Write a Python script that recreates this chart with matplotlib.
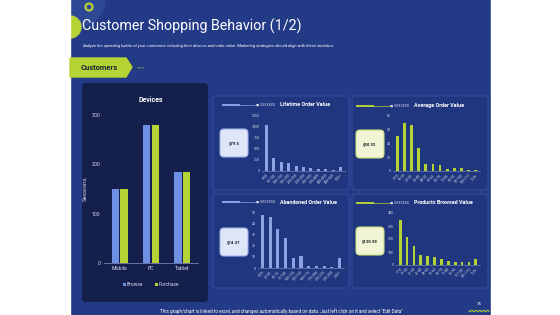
"""
Customer shopping behaviour slide: device sessions and four order-value histograms.
"""

import matplotlib
matplotlib.use('Agg')
import matplotlib.pyplot as plt
from matplotlib.patches import Rectangle, Circle, FancyBboxPatch, Polygon
import numpy as np

plt.rcParams['font.family'] = ['Roboto', 'DejaVu Sans']

W, H = 560, 315

# Devices chart
devices = ['Mobile', 'PC', 'Tablet']
browse = [150, 280, 185]
purchase = [150, 280, 185]

# Small histograms
lov_labels = ['0-50', '50-100', '100-150', '150-200', '200-250', '250-300',
              '300-350', '350-400', '400-450', '450-500', '500+']
lov_values = [1050, 300, 200, 175, 110, 80, 60, 55, 40, 30, 95]

aov_labels = ['0-10', '10-20', '20-30', '30-40', '40-50', '50-60',
              '60-70', '70-80', '80-90', '90-100', '100-110', '110+']
aov_values = [50, 70, 67, 33, 10, 10, 8, 3, 5, 4, 1.5, 2]

abov_labels = ['0-25', '25-50', '50-75', '75-100', '100-125', '125-150',
               '150-175', '175-200', '200-225', '225-250', '250+']
abov_values = [48, 46, 35, 27, 9, 11, 2, 2, 2, 0.5, 9]

pbv_labels = ['1-10', '11-20', '21-30', '31-40', '41-50', '51-60',
              '61-70', '71-80', '81-90', '91-100', '101-110', '110+']
pbv_values = [345, 215, 150, 80, 70, 60, 50, 30, 20, 20, 25, 48]

BG = '#233a86'
PANEL = '#141f4c'
SMALL = '#20367e'
BLUE = '#6f8fe2'
LBLUE = '#8da2e2'
GREEN = '#b5d334'
TXT = '#d4daf0'

fig = plt.figure(figsize=(5.6, 3.15), dpi=100)
fig.patch.set_facecolor('white')

# overlay in pixel coordinates
ov = fig.add_axes([0, 0, 1, 1])
ov.set_xlim(0, W)
ov.set_ylim(H, 0)
ov.axis('off')

ov.add_patch(Rectangle((70, 0), 421, H, color=BG, zorder=0))
# decorative circles
ov.add_patch(Circle((78, 0), 27, color='#2e4895', zorder=1))
ov.add_patch(Circle((70, 27), 11, color=GREEN, zorder=1))
ov.add_patch(Circle((89, 7), 3.5, fill=False, ec=GREEN, lw=1.6, zorder=2))
# white margins cover anything outside the slide
ov.add_patch(Rectangle((0, 0), 70, H, color='white', zorder=3))
ov.add_patch(Rectangle((491, 0), 69, H, color='white', zorder=3))

ov.text(82, 26, 'Customer Shopping Behavior (1/2)', color='white', fontsize=10.3,
        va='center', ha='left', zorder=4)
ov.text(82, 46, 'Analyze the spending habits of your customers including their devices and order value. '
        'Marketing strategies should align with these statistics.',
        color='white', fontsize=2.95, style='italic', va='center', ha='left', zorder=4)

# "Customers" tag
ov.add_patch(Polygon([(70, 58), (126, 58), (132, 67), (126, 77), (70, 77)],
                     closed=True, color=GREEN, zorder=4))
ov.text(81, 67.5, 'Customers', color='#14213a', fontsize=5.4, fontweight='bold',
        va='center', ha='left', zorder=5)
ov.text(137, 67.5, '>>>>', color=GREEN, fontsize=3, va='center', ha='left', zorder=5)

# panels
ov.add_patch(FancyBboxPatch((82, 83), 126, 219, boxstyle='round,pad=0,rounding_size=4',
                            fc=PANEL, ec='none', zorder=1))
small_boxes = [(213, 96), (352, 96), (213, 194), (352, 194)]
for (x, y) in small_boxes:
    ov.add_patch(FancyBboxPatch((x, y), 136, 94, boxstyle='round,pad=0,rounding_size=3',
                                fc=SMALL, ec='#3a54a4', lw=0.6, zorder=1))

# footer
ov.text(281, 311, 'This graph/chart is linked to excel, and changes automatically based on data. '
        'Just left click on it and select "Edit Data"', color='white', fontsize=3.3,
        va='center', ha='center', zorder=4)
ov.text(479, 304, '15', color='white', fontsize=3.2, va='center', ha='center', zorder=4)
wx = np.linspace(469, 489, 60)
ov.plot(wx, 311 + 0.8 * np.sin((wx - 469) * 1.6), color=GREEN, lw=0.7, zorder=4)


def px_axes(x0, y0, x1, y1):
    a = fig.add_axes([x0 / W, 1 - y1 / H, (x1 - x0) / W, (y1 - y0) / H])
    a.patch.set_alpha(0)
    return a


# Devices grouped bars
ax = px_axes(104, 115, 198, 263)
x = np.arange(len(devices))
bw = 0.24
ax.bar(x - 0.14, browse, bw, color=BLUE, label='Browse')
ax.bar(x + 0.14, purchase, bw, color=GREEN, label='Purchase')
ax.set_xlim(-0.5, 2.5)
ax.set_ylim(0, 300)
ax.set_yticks([0, 100, 200, 300])
ax.set_xticks(x)
ax.set_xticklabels(devices)
for s in ['top', 'right', 'left']:
    ax.spines[s].set_visible(False)
ax.spines['bottom'].set_color('#8a96c0')
ax.spines['bottom'].set_linewidth(0.5)
ax.tick_params(length=0, labelsize=3.8, colors=TXT, pad=2.5)
ax.set_ylabel('Sessions', color=TXT, fontsize=4.4, labelpad=3)
ax.set_title('Devices', color='white', fontsize=5, fontweight='bold', pad=9)
ax.legend(loc='upper center', bbox_to_anchor=(0.5, -0.1), ncol=2, frameon=False,
          fontsize=3.5, labelcolor=TXT, handlelength=0.6, handleheight=0.6,
          handletextpad=0.2, columnspacing=2.5)


def small_chart(box, labels, values, ymax, step, color, title, value, head, vbox, vfc, vec):
    a = px_axes(*box)
    xs = np.arange(len(values))
    a.bar(xs, values, 0.4, color=color)
    a.set_xlim(-0.6, len(values) - 0.4)
    a.set_ylim(0, ymax)
    a.set_yticks(np.arange(0, ymax + 1, step))
    a.set_xticks(xs)
    a.set_xticklabels(labels, rotation=45, ha='right', rotation_mode='anchor')
    for s in ['top', 'right', 'left']:
        a.spines[s].set_visible(False)
    a.spines['bottom'].set_color('#8a96c0')
    a.spines['bottom'].set_linewidth(0.4)
    a.tick_params(length=0, labelsize=2.5, colors=TXT, pad=1.5)
    # header: legend line, placeholder name and title
    hx, hy = head
    ov.plot([hx, hx + 16], [hy, hy], color=color, lw=1.4, zorder=4)
    ov.plot([hx + 16, hx + 32], [hy, hy], color=color, lw=0.5, zorder=4)
    ov.text(hx + 33, hy, '\u25a0 XXXXXXX', color=TXT, fontsize=2.4, va='center', ha='left', zorder=4)
    ov.text(hx + 57, hy, title, color='white', fontsize=3.9, fontweight='bold',
            va='center', ha='left', zorder=4)
    bx, by = vbox
    ov.add_patch(FancyBboxPatch((bx, by), 28, 28, boxstyle='round,pad=0,rounding_size=4',
                                fc=vfc, ec=vec, lw=0.8, zorder=4))
    ov.text(bx + 14, by + 14, value, color='#1a1a2a', fontsize=3.1, fontweight='bold',
            va='center', ha='center', zorder=5)


small_chart((262, 115.7, 345, 171), lov_labels, lov_values, 1250, 250, LBLUE,
            'Lifetime Order Value', '$79.5', (223, 105), (220, 129), '#dfe6f8', '#9fb1e8')
small_chart((393, 115.7, 480, 171), aov_labels, aov_values, 80, 20, GREEN,
            'Average Order Value', '$50.92', (357, 105.5), (356, 130), '#f1f5d6', '#c9de7a')
small_chart((258, 212.7, 344, 268), abov_labels, abov_values, 50, 10, LBLUE,
            'Abandoned Order Value', '$74.37', (223, 202), (220, 228), '#dfe6f8', '#9fb1e8')
small_chart((396, 213, 480, 265), pbv_labels, pbv_values, 400, 100, GREEN,
            'Products Browsed Value', '$130.98', (357, 202.5), (356, 227), '#f1f5d6', '#c9de7a')

fig.savefig('out.png', dpi=100, facecolor=fig.get_facecolor())
